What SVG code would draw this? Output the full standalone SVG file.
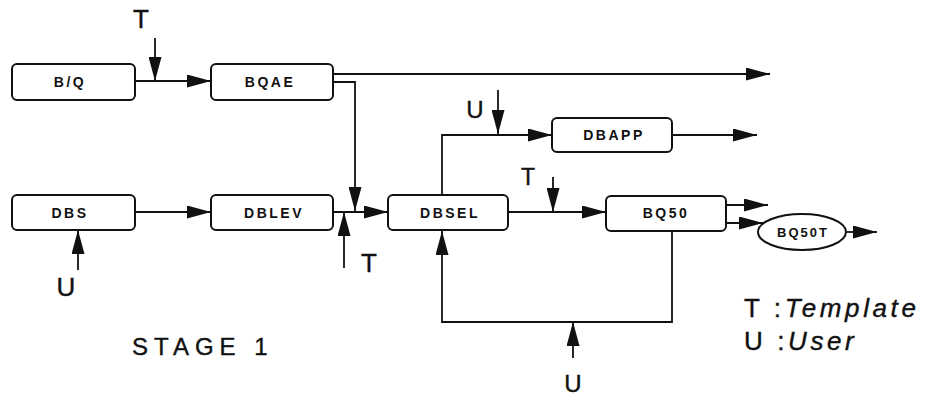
<svg xmlns="http://www.w3.org/2000/svg" width="928" height="396" viewBox="0 0 928 396">
<style>
.box{fill:#fff;stroke:#111;stroke-width:2}
.bl{font-family:"Liberation Sans",Arial,sans-serif;font-weight:bold;font-size:14px;letter-spacing:2.5px;text-anchor:middle;fill:#111}
.big{font-family:"Liberation Sans",Arial,sans-serif;font-size:26px;text-anchor:middle;fill:#111;stroke:#111;stroke-width:0.4}
.cn{fill:none;stroke:#111;stroke-width:1.8}
.leg{font-family:"Liberation Sans",Arial,sans-serif;font-size:26px;letter-spacing:3.6px;fill:#111;stroke:#111;stroke-width:0.4}
</style>
<defs>
<marker id="ah" markerUnits="userSpaceOnUse" markerWidth="24" markerHeight="13" refX="24" refY="6.5" orient="auto" viewBox="0 0 24 13">
<path d="M0,0 L24,6.5 L0,13 z" fill="#111"/>
</marker>
</defs>
<g id="connectors">
<path class="cn" d="M135,81 H211" marker-end="url(#ah)"/>
<path class="cn" d="M155,38 V81" marker-end="url(#ah)"/>
<path class="cn" d="M333,74 H770" marker-end="url(#ah)"/>
<path class="cn" d="M333,82 H355 V211" marker-end="url(#ah)"/>
<path class="cn" d="M135,212 H211" marker-end="url(#ah)"/>
<path class="cn" d="M333,212 H388" marker-end="url(#ah)"/>
<path class="cn" d="M344,268 V212" marker-end="url(#ah)"/>
<path class="cn" d="M78,270 V230" marker-end="url(#ah)"/>
<path class="cn" d="M442,195 V135 H552" marker-end="url(#ah)"/>
<path class="cn" d="M498,90 V134" marker-end="url(#ah)"/>
<path class="cn" d="M672,135 H757" marker-end="url(#ah)"/>
<path class="cn" d="M508,212 H606" marker-end="url(#ah)"/>
<path class="cn" d="M553,177 V212" marker-end="url(#ah)"/>
<path class="cn" d="M726,205 H768" marker-end="url(#ah)"/>
<path class="cn" d="M726,223 H763" marker-end="url(#ah)"/>
<path class="cn" d="M846,232 H877" marker-end="url(#ah)"/>
<path class="cn" d="M672,231 V322 H442 V231" marker-end="url(#ah)"/>
<path class="cn" d="M573,358 V322" marker-end="url(#ah)"/>
</g>
<g id="BQ"><rect class="box" x="12" y="64" width="123" height="36" rx="5"/><text class="bl" x="70" y="87">B/Q</text></g>
<g id="BQAE"><rect class="box" x="211" y="64" width="122" height="36" rx="5"/><text class="bl" x="270" y="87">BQAE</text></g>
<g id="DBS"><rect class="box" x="12" y="195" width="123" height="35" rx="5"/><text class="bl" x="70" y="218">DBS</text></g>
<g id="DBLEV"><rect class="box" x="211" y="195" width="122" height="35" rx="5"/><text class="bl" x="274" y="218">DBLEV</text></g>
<g id="DBSEL"><rect class="box" x="388" y="195" width="120" height="35" rx="5"/><text class="bl" x="450" y="218">DBSEL</text></g>
<g id="DBAPP"><rect class="box" x="552" y="118" width="120" height="34" rx="5"/><text class="bl" x="614" y="140">DBAPP</text></g>
<g id="BQ50"><rect class="box" x="606" y="196" width="120" height="35" rx="5"/><text class="bl" x="666" y="218">BQ50</text></g>
<g id="BQ50T"><ellipse class="box" cx="802" cy="232" rx="44" ry="18"/><text class="bl" x="803" y="237" style="font-size:13px;letter-spacing:2px">BQ50T</text></g>
<g id="labels">
<text class="big" x="141" y="28">T</text>
<text class="big" x="369" y="272">T</text>
<text class="big" x="66" y="296">U</text>
<text class="big" x="475" y="118" style="font-size:24px">U</text>
<text class="big" x="528" y="185" style="font-size:23px">T</text>
<text class="big" x="573" y="392" style="font-size:24px">U</text>
<text class="leg" x="132" y="355" style="font-size:24px;letter-spacing:6px">STAGE 1</text>
<text class="leg" x="744" y="317">T :<tspan font-style="italic">Template</tspan></text>
<text class="leg" x="744" y="350">U :<tspan font-style="italic">User</tspan></text>
</g>
</svg>
